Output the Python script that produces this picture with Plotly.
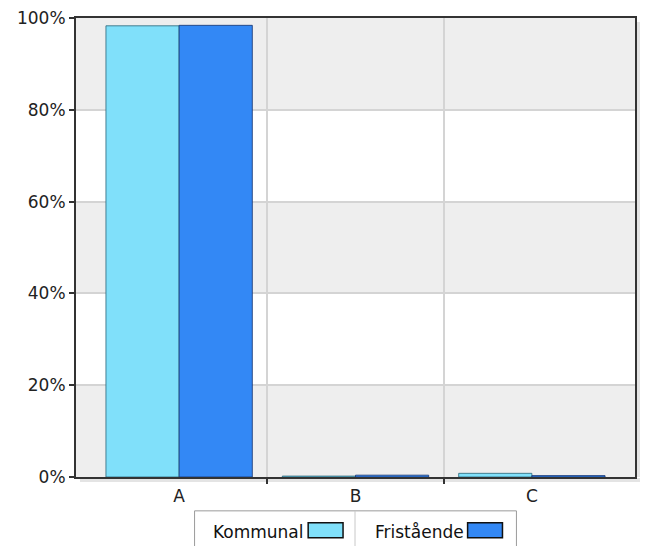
import plotly.graph_objects as go

categories = ["A", "B", "C"]
kommunal = [98.3, 0.2, 0.8]
fristaende = [98.4, 0.4, 0.3]
series_names = ["Kommunal", "Fristående"]
y_ticks = [0, 20, 40, 60, 80, 100]
y_ticktext = [f"{v}%" for v in y_ticks]

FONT = "DejaVu Sans"
C_K = "rgb(128,224,250)"
C_F = "rgb(51,136,245)"

xpos = list(range(len(categories)))

fig = go.Figure()
fig.add_trace(go.Bar(x=xpos, y=kommunal, name=series_names[0], marker=dict(color=C_K, line=dict(color="rgba(40,100,120,0.8)", width=1)), showlegend=False))
fig.add_trace(go.Bar(x=xpos, y=fristaende, name=series_names[1], marker=dict(color=C_F, line=dict(color="rgba(20,50,110,0.8)", width=1)), showlegend=False))

shapes = []
for i in range(len(y_ticks) - 1):
    if i % 2 == 0:
        shapes.append(dict(type="rect", xref="paper", yref="y", x0=0, x1=1, y0=y_ticks[i], y1=y_ticks[i + 1],
                           fillcolor="#eeeeee", line=dict(width=0), layer="below"))

L, R, T, B = 76, 637, 16, 477
W, H = R - L, B - T
def px(x):
    return (x - L) / W
def py(y):
    return (B - y) / H

shapes.append(dict(type="rect", xref="paper", yref="paper", x0=px(R + 1), x1=px(R + 5), y0=py(B), y1=py(T + 4),
                   fillcolor="#e4e4e4", line=dict(width=0), layer="below"))
shapes.append(dict(type="rect", xref="paper", yref="paper", x0=px(L + 4), x1=px(R + 5), y0=py(B + 5), y1=py(B + 1),
                   fillcolor="#e4e4e4", line=dict(width=0), layer="below"))

LG_L, LG_R, LG_T, LG_B, LG_DIV = 195, 518, 511, 560, 356
shapes.append(dict(type="rect", xref="paper", yref="paper", x0=px(LG_L), x1=px(LG_R), y0=py(LG_B), y1=py(LG_T),
                   fillcolor="white", line=dict(color="#9a9a9a", width=1)))
shapes.append(dict(type="line", xref="paper", yref="paper", x0=px(LG_DIV), x1=px(LG_DIV), y0=py(LG_B), y1=py(LG_T),
                   line=dict(color="#c8c8c8", width=1)))
sw = [(309, 344, C_K), (469, 504, C_F)]
for (a, b, c) in sw:
    shapes.append(dict(type="rect", xref="paper", yref="paper", x0=px(a), x1=px(b), y0=py(538), y1=py(523),
                       fillcolor=c, line=dict(color="#111111", width=1.5)))
annotations = []
for name, right in zip(series_names, [307, 467]):
    annotations.append(dict(text=name, xref="paper", yref="paper", x=px(right), y=py(532), xanchor="right",
                            yanchor="middle", showarrow=False, font=dict(family=FONT, size=17, color="#111111")))

fig.update_layout(
    width=645, height=546,
    margin=dict(l=L, r=645 - R, t=T, b=546 - B),
    paper_bgcolor="white", plot_bgcolor="white",
    barmode="group", bargap=0.17, bargroupgap=0,
    shapes=shapes, annotations=annotations,
    font=dict(family=FONT, size=17, color="#222222"),
    showlegend=False,
)
pad = 15 / 177
fig.update_xaxes(
    range=[-0.5 - pad, len(categories) - 0.5 + pad],
    tickmode="array", tickvals=xpos, ticktext=categories,
    ticks="", showgrid=False, zeroline=False,
    showline=True, linecolor="#333333", linewidth=2, mirror=True,
    ticklabelstandoff=3,
    minor=dict(tickmode="array", tickvals=[i + 0.5 for i in xpos[:-1]], ticks="outside", ticklen=5,
               tickcolor="#333333", tickwidth=1.5, showgrid=True, gridcolor="#d4d4d4", gridwidth=1.5),
)
fig.update_yaxes(
    range=[0, 100], tickmode="array", tickvals=y_ticks, ticktext=y_ticktext,
    ticks="outside", ticklen=5, tickcolor="#333333", tickwidth=1.5,
    showgrid=True, gridcolor="#d4d4d4", gridwidth=1.5, zeroline=False,
    showline=True, linecolor="#333333", linewidth=2, mirror=True,
)
fig.write_html("out.html", config={"displayModeBar": False},
               post_script="document.body.style.margin='0';document.body.style.overflow='hidden';")
